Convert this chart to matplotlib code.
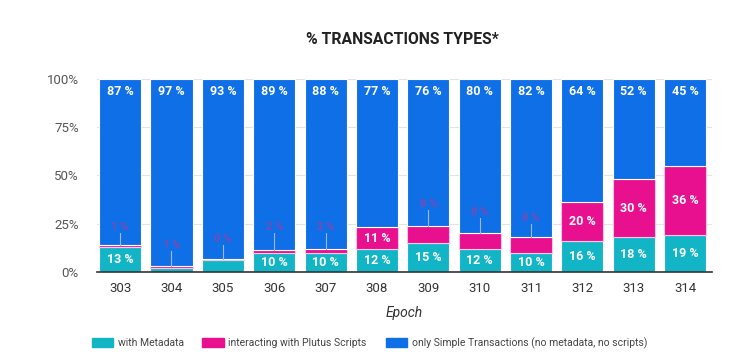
import matplotlib
matplotlib.use('Agg')
from matplotlib import pyplot as plt
from matplotlib.patches import Patch
import numpy as np

plt.rcParams['font.family'] = ['Roboto', 'DejaVu Sans']

epochs = ['303', '304', '305', '306', '307', '308', '309', '310', '311', '312', '313', '314']
metadata = [13, 2, 6, 10, 10, 12, 15, 12, 10, 16, 18, 19]
plutus = [0.8, 1, 0.6, 1.5, 2, 11, 8.5, 8, 8, 20, 30, 36]
simple = [87, 97, 93, 89, 88, 77, 76, 80, 82, 64, 52, 45]
plutus_labels = ['1 %', '1 %', '0 %', '2 %', '2 %', '11 %', '8 %', '8 %', '8 %', '20 %', '30 %', '36 %']
# where the small outside labels sit (% height)
small_label_y = [23, 14, 17, 23, 23, None, 35, 31, 28, None, None, None]

c_meta = '#12b5c6'
c_plutus = '#e8108f'
c_simple = '#0f6fe6'

meta = np.array(metadata, dtype=float)
plu = np.array(plutus, dtype=float)
sim = np.array(simple, dtype=float)
tot = meta + plu + sim
meta_p = meta / tot * 100
plu_p = plu / tot * 100
sim_p = sim / tot * 100

x = np.arange(len(epochs))
fig = plt.figure(figsize=(7.32, 3.62), dpi=100)
ax = fig.add_axes([0.1325, 0.249, 0.840, 0.533])

w = 0.82
ax.bar(x, meta_p, w, color=c_meta, edgecolor='white', linewidth=0.8, zorder=2)
ax.bar(x, plu_p, w, bottom=meta_p, color=c_plutus, edgecolor='#f3c6e6', linewidth=0.8, zorder=2)
ax.bar(x, sim_p, w, bottom=meta_p + plu_p, color=c_simple, edgecolor='white', linewidth=0.8, zorder=2)

for i in range(len(epochs)):
    ax.text(x[i], 93.5, '%d %%' % simple[i], ha='center', va='center', color='white',
            fontsize=9, fontweight='bold', zorder=3)
    if metadata[i] >= 8:
        ax.text(x[i], meta_p[i] / 2, '%d %%' % metadata[i], ha='center', va='center', color='white',
                fontsize=9, fontweight='bold', zorder=3)
    if small_label_y[i] is None:
        ax.text(x[i], meta_p[i] + plu_p[i] / 2, plutus_labels[i], ha='center', va='center', color='white',
                fontsize=9, fontweight='bold', zorder=3)
    else:
        top = meta_p[i] + plu_p[i]
        ax.plot([x[i], x[i]], [top, small_label_y[i] - 3], color='#9fb8e8', linewidth=0.8, zorder=3)
        ax.text(x[i], small_label_y[i], plutus_labels[i], ha='center', va='center', color='#a8399f',
                fontsize=8, fontweight='bold', alpha=0.7, zorder=3)

ax.set_xlim(-0.45, 11.52)
ax.set_ylim(0, 100)
ax.set_yticks([0, 25, 50, 75, 100])
ax.set_yticklabels(['0%', '25%', '50%', '75%', '100%'], color='#555555', fontsize=9.5)
ax.set_xticks(x)
ax.set_xticklabels(epochs, color='#333333', fontsize=9.5)
ax.tick_params(axis='x', length=0, pad=7)
ax.tick_params(axis='y', length=0, pad=13)
ax.grid(axis='y', color='#e3e3e3', linewidth=0.8, zorder=0)
for s in ['left', 'right', 'top']:
    ax.spines[s].set_visible(False)
ax.spines['bottom'].set_color('#333333')
ax.spines['bottom'].set_linewidth(1.2)
ax.spines['bottom'].set_zorder(4)

ax.set_xlabel('Epoch', fontsize=10, style='italic', color='#333333', labelpad=8)
fig.text(0.55, 0.89, '% TRANSACTIONS TYPES*', ha='center', va='center', fontsize=11.3,
         fontweight='bold', color='#222222')

handles = [Patch(color=c_meta, label='with Metadata'),
           Patch(color=c_plutus, label='interacting with Plutus Scripts'),
           Patch(color=c_simple, label='only Simple Transactions (no metadata, no scripts)')]
fig.legend(handles=handles, loc='center left', bbox_to_anchor=(0.125, 0.052), ncol=3, frameon=False,
           fontsize=7.5, handlelength=2.1, handleheight=0.9, columnspacing=1.8, handletextpad=0.4,
           labelcolor='#444444', borderpad=0, borderaxespad=0)

fig.savefig('out.png', dpi=100)
